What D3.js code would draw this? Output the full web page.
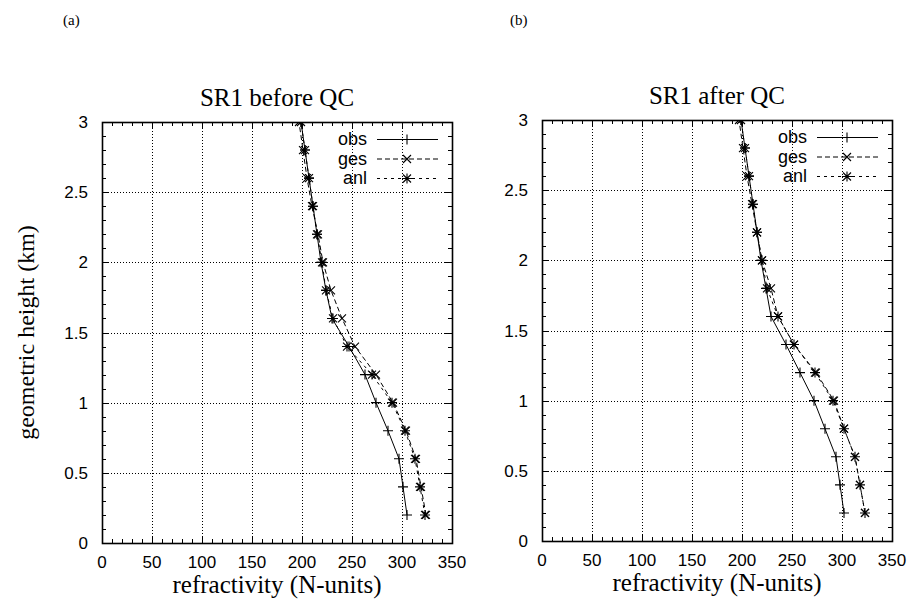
<!DOCTYPE html>
<html>
<head>
<meta charset="utf-8">
<script src="https://cdn.jsdelivr.net/npm/d3@7"></script>
<style>
  body { margin: 0; background: #fff; }
  svg { display: block; }
</style>
</head>
<body>
<figure id="chart" style="margin:0"></figure>
<script>
// heights (km) of the profile levels; last one sits above the frame and gets clipped
const heights = [0.2, 0.4, 0.6, 0.8, 1.0, 1.2, 1.4, 1.6, 1.8, 2.0, 2.2, 2.4, 2.6, 2.8, 3.0, 3.2];

// (a) before QC
const obsBefore = [305, 301, 297, 286, 274, 263, 247, 230, 224, 219, 215, 211, 207, 203, 199, 195];
const gesBefore = [324, 319, 314, 304, 291, 274, 253, 240, 229, 221, 216, 210, 205, 201, 197, 193];
const anlBefore = [323, 318, 313, 303, 290, 270, 245, 231, 224, 220, 215, 211, 207, 203, 199, 195];

// (b) after QC
const obsAfter = [302, 298, 294, 283, 272, 258, 244, 229, 224, 219, 215, 211, 207, 203, 199, 195];
const gesAfter = [323, 318, 313, 302, 292, 274, 252, 236, 229, 220, 215, 210, 205, 201, 197, 193];
const anlAfter = [323, 318, 313, 302, 291, 273, 252, 236, 225, 220, 215, 211, 207, 203, 199, 195];

const seriesNames = ["obs", "ges", "anl"];
const xTicks = [0, 50, 100, 150, 200, 250, 300, 350];
const yTicks = [0, 0.5, 1, 1.5, 2, 2.5, 3];

const width = 912, height = 601;
const serif = "'Liberation Serif', 'Times New Roman', serif";
const sans = "'Liberation Sans', Arial, Helvetica, sans-serif";

const svg = d3.select("figure#chart")
  .append("svg")
  .attr("width", width)
  .attr("height", height);

// marker shapes: + , x , *
function marker(g, kind, cx, cy) {
  const r = 5;
  const p = d3.path();
  if (kind === "obs" || kind === "anl") {
    p.moveTo(cx - r, cy); p.lineTo(cx + r, cy);
    p.moveTo(cx, cy - r); p.lineTo(cx, cy + r);
  }
  if (kind === "ges" || kind === "anl") {
    const d = r * 0.8;
    p.moveTo(cx - d, cy - d); p.lineTo(cx + d, cy + d);
    p.moveTo(cx - d, cy + d); p.lineTo(cx + d, cy - d);
  }
  g.append("path").attr("d", p.toString())
    .attr("stroke", "#000").attr("stroke-width", 1.1).attr("fill", "none");
}

const dashes = { obs: null, ges: "5,3", anl: "3,4" };

function drawPanel(opts) {
  const { left, top, id, tagX, title, obs, ges, anl, yLabel } = opts;
  const w = 350, h = 421;
  const g = svg.append("g").attr("transform", "translate(" + left + "," + top + ")");

  const x = d3.scaleLinear().domain([0, 350]).range([0, w]);
  const y = d3.scaleLinear().domain([0, 3]).range([h, 0]);

  // grid
  g.append("g").selectAll("line")
    .data(xTicks.filter(t => t > 0 && t < 350))
    .enter().append("line")
    .attr("x1", d => x(d) + 0.5).attr("x2", d => x(d) + 0.5)
    .attr("y1", 0).attr("y2", h)
    .attr("stroke", "#000").attr("stroke-width", 1).attr("stroke-dasharray", "1,2");
  g.append("g").selectAll("line")
    .data(yTicks.filter(t => t > 0 && t < 3))
    .enter().append("line")
    .attr("y1", d => Math.round(y(d)) + 0.5).attr("y2", d => Math.round(y(d)) + 0.5)
    .attr("x1", 0).attr("x2", w)
    .attr("stroke", "#000").attr("stroke-width", 1).attr("stroke-dasharray", "1,2");

  // ticks on all four sides, pointing inward
  const xMinor = d3.range(0, 351, 10);
  const yMinor = d3.range(0, 31, 1).map(v => v / 10);
  const tk = g.append("g").attr("stroke", "#000").attr("stroke-width", 1);
  xMinor.forEach(v => {
    const len = (v % 50 === 0) ? 7 : 4;
    const xx = Math.round(x(v)) + 0.5;
    tk.append("line").attr("x1", xx).attr("x2", xx).attr("y1", h).attr("y2", h - len);
    tk.append("line").attr("x1", xx).attr("x2", xx).attr("y1", 0).attr("y2", len);
  });
  yMinor.forEach(v => {
    const major = Math.abs(v * 2 - Math.round(v * 2)) < 1e-6;
    const len = major ? 7 : 4;
    const yy = Math.round(y(v)) + 0.5;
    tk.append("line").attr("y1", yy).attr("y2", yy).attr("x1", 0).attr("x2", len);
    tk.append("line").attr("y1", yy).attr("y2", yy).attr("x1", w).attr("x2", w - len);
  });

  // frame
  g.append("rect").attr("x", 0.5).attr("y", 0.5).attr("width", w).attr("height", h)
    .attr("fill", "none").attr("stroke", "#000").attr("stroke-width", 1.6);

  // tick labels
  g.append("g").selectAll("text").data(xTicks).enter().append("text")
    .attr("x", d => x(d)).attr("y", h + 25)
    .attr("text-anchor", "middle")
    .style("font-family", sans).style("font-size", "17px")
    .text(d => d);
  g.append("g").selectAll("text").data(yTicks).enter().append("text")
    .attr("x", -14).attr("y", d => y(d) + 6)
    .attr("text-anchor", "end")
    .style("font-family", sans).style("font-size", "17px")
    .text(d => d);

  // title + axis labels
  g.append("text").attr("x", w / 2).attr("y", -16)
    .attr("text-anchor", "middle")
    .style("font-family", serif).style("font-size", "25px")
    .text(title);
  g.append("text").attr("x", w / 2).attr("y", h + 50)
    .attr("text-anchor", "middle")
    .style("font-family", serif).style("font-size", "25px")
    .text("refractivity (N-units)");
  if (yLabel) {
    g.append("text")
      .attr("transform", "translate(-68," + (h / 2) + ") rotate(-90)")
      .attr("text-anchor", "middle")
      .style("font-family", serif).style("font-size", "24px")
      .text(yLabel);
  }

  // data
  g.append("clipPath").attr("id", "clip-" + id)
    .append("rect").attr("x", 0).attr("y", 0).attr("width", w).attr("height", h);
  const plot = g.append("g").attr("clip-path", "url(#clip-" + id + ")");
  const series = { obs: obs, ges: ges, anl: anl };
  const line = d3.line().x(d => x(d[0])).y(d => y(d[1]));

  seriesNames.forEach(name => {
    const pts = series[name].map((v, i) => [v, heights[i]]);
    plot.append("path").datum(pts)
      .attr("d", line)
      .attr("fill", "none").attr("stroke", "#000").attr("stroke-width", 1)
      .attr("stroke-dasharray", dashes[name]);
    pts.forEach(p => marker(plot, name, x(p[0]), y(p[1])));
  });

  // legend
  const lg = g.append("g");
  seriesNames.forEach((name, i) => {
    const ly = 17 + i * 19.5;
    lg.append("text").attr("x", 265).attr("y", ly + 6)
      .attr("text-anchor", "end")
      .style("font-family", sans).style("font-size", "18px")
      .text(name);
    lg.append("line").attr("x1", 275).attr("x2", 336).attr("y1", ly + 0.5).attr("y2", ly + 0.5)
      .attr("stroke", "#000").attr("stroke-width", 1).attr("stroke-dasharray", dashes[name]);
    marker(lg, name, 305, ly + 0.5);
  });

  // panel tag
  svg.append("text").attr("x", tagX).attr("y", 25)
    .style("font-family", serif).style("font-size", "15px")
    .text("(" + id + ")");
}

drawPanel({ left: 102, top: 122, id: "a", tagX: 63, title: "SR1 before QC",
  obs: obsBefore, ges: gesBefore, anl: anlBefore, yLabel: "geometric height (km)" });
drawPanel({ left: 542, top: 120, id: "b", tagX: 510, title: "SR1 after QC",
  obs: obsAfter, ges: gesAfter, anl: anlAfter, yLabel: null });
</script>
</body>
</html>
